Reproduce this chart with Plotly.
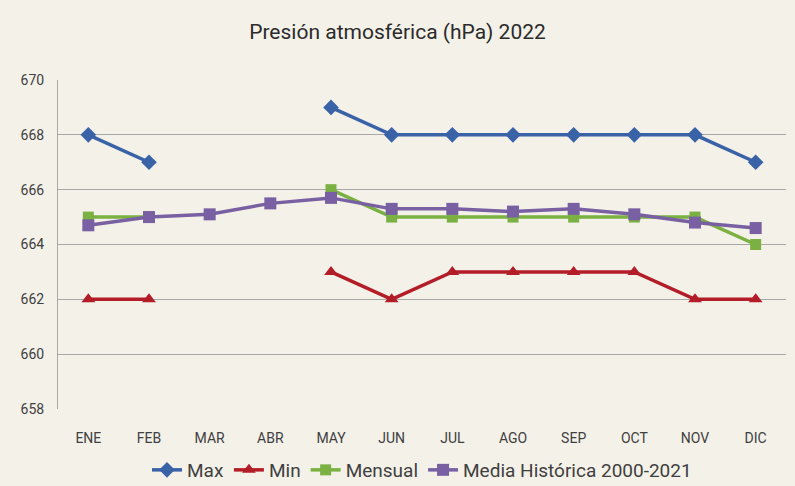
import plotly.graph_objects as go

meses = ["ENE", "FEB", "MAR", "ABR", "MAY", "JUN", "JUL", "AGO", "SEP", "OCT", "NOV", "DIC"]
maximo = [668, 667, None, None, 669, 668, 668, 668, 668, 668, 668, 667]
minimo = [662, 662, None, None, 663, 662, 663, 663, 663, 663, 662, 662]
mensual = [665, 665, None, None, 666, 665, 665, 665, 665, 665, 665, 664]
media = [664.7, 665.0, 665.1, 665.5, 665.7, 665.3, 665.3, 665.2, 665.3, 665.1, 664.8, 664.6]
y_ticks = [658, 660, 662, 664, 666, 668, 670]

FONT = "Roboto, sans-serif"
BG = "#f4f1e9"

fig = go.Figure()
series = [
    ("Max", maximo, "#3a62a7", "diamond", 12),
    ("Min", minimo, "#b31d27", "triangle-up", 12),
    ("Mensual", mensual, "#7bb142", "square", 11),
    ("Media Histórica 2000-2021", media, "#7860a2", "square", 12),
]
for name, vals, color, sym, sz in series:
    fig.add_trace(go.Scatter(
        x=meses, y=vals, name=name, mode="lines+markers",
        line=dict(color=color, width=3.5),
        marker=dict(symbol=sym, size=sz, color=color),
        connectgaps=False,
    ))

fig.update_layout(
    width=795, height=486,
    paper_bgcolor=BG, plot_bgcolor=BG,
    margin=dict(l=58, r=9, t=80, b=77, autoexpand=False),
    title=dict(text="Presión atmosférica (hPa) 2022", x=0.5, xanchor="center",
               y=1 - 32 / 486, yanchor="middle",
               font=dict(family=FONT, size=21, color="#2b2b2b")),
    font=dict(family=FONT, color="#404040"),
    showlegend=True,
    legend=dict(orientation="h", x=0.5, xanchor="center",
                yref="container", y=1 - 470 / 486, yanchor="middle",
                font=dict(family=FONT, size=19, color="#404040"),
                itemwidth=30, traceorder="normal", bgcolor="rgba(0,0,0,0)"),
    xaxis=dict(type="category", range=[-0.5, len(meses) - 0.5],
               showgrid=False, showline=False, zeroline=False,
               automargin=False,
               ticks="", tickfont=dict(size=14, color="#404040"), ticklabelstandoff=19),
    yaxis=dict(range=[658, 670], tickvals=y_ticks, showgrid=True, gridcolor="#a8a8a8",
               gridwidth=1, showline=True, linecolor="#a8a8a8", linewidth=1,
               automargin=False,
               zeroline=False, ticks="", tickfont=dict(size=14, color="#404040"),
               ticklabelstandoff=10),
)

fig.write_html("out.html", config={"displayModeBar": False},
               post_script="document.body.style.margin='0';document.body.style.background='%s';" % BG)
